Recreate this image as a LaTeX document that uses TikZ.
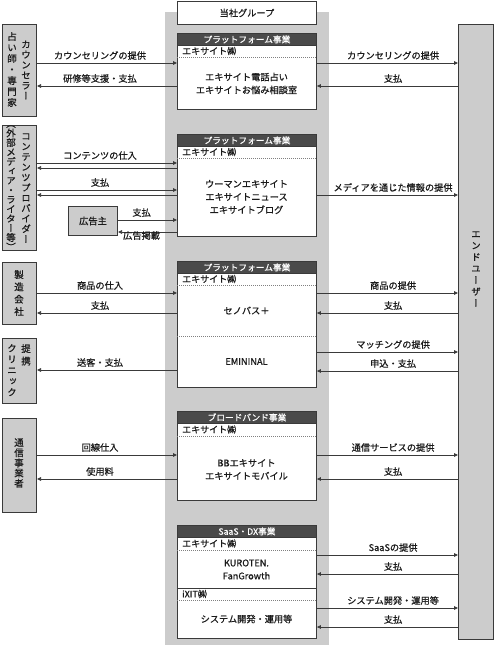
\documentclass[tikz,border=0pt]{standalone}
\usepackage{fontspec}
\setmainfont{Noto Sans CJK JP}[FakeBold=0.7]
\newfontfamily\vjp[RawFeature=+vert,FakeBold=0.7]{Noto Sans CJK JP}
\usetikzlibrary{arrows.meta}
\definecolor{colbg}{HTML}{CCCCCC}
\definecolor{hdr}{HTML}{4A4A4A}
\definecolor{ln}{HTML}{3A3A3A}
\definecolor{txt}{HTML}{1A1A1A}
\tikzset{
 line/.style={draw=ln, line width=0.75pt},
 ra/.style={line, -{Triangle[length=4pt,width=3.6pt]}},
 la/.style={line, {Triangle[length=4pt,width=3.6pt]}-},
 lbl/.style={font=\fontsize{9.2}{10}\selectfont, inner sep=0pt, anchor=base, yshift=4pt, text=txt},
 lblb/.style={lbl, yshift=-11pt},
 lbox/.style={draw=ln, line width=1pt, fill=colbg, anchor=north west, inner sep=0pt, minimum width=34pt},
 pbox/.style={draw=ln, line width=0.9pt, fill=white, anchor=north west, inner sep=0pt, minimum width=139pt},
 hdrbox/.style={fill=hdr, draw=ln, line width=0.9pt, anchor=north west, inner sep=0pt, minimum width=139pt, minimum height=12pt, text=white, font=\fontsize{8.7}{9}\selectfont},
 corp/.style={anchor=west, inner sep=0pt, text=txt, font=\fontsize{9}{10}\selectfont},
 body/.style={align=center, inner sep=0pt, text=txt, font=\fontsize{9.2}{13}\selectfont},
 vt/.style={align=center, inner sep=0pt, text=txt, font=\vjp\fontsize{9.5}{#1}\selectfont},
 vt/.default=11,
 sep/.style={draw=gray, line width=0.5pt, dash pattern=on 1pt off 1pt},
}
\begin{document}
\begin{tikzpicture}[x=1pt,y=-1pt]
\useasboundingbox (0,0) rectangle (494,645);
\fill[colbg] (165,12) rectangle (329,645);

% group header
\node[pbox, minimum height=23pt, font=\fontsize{9.2}{10}\selectfont, text=txt] (grp) at (177,1) {当社グループ};

% end user
\node[lbox, minimum width=35pt, minimum height=615pt] (eu) at (458,24) {};
\node[vt=11.5] (eut) at (476,269) {エ\\ン\\ド\\ユ\\ー\\ザ\\ー};

% left boxes
\node[lbox, minimum height=92pt] (cns) at (2,24) {};
\node[vt=10.3] (cnsa) at (26,70) {カ\\ウ\\ン\\セ\\ラ\\ー};
\node[vt=11] (cnsb) at (12,69.5) {占\\い\\師\\・\\専\\門\\家};

\node[lbox, minimum height=125pt] (cp) at (2,125) {};
\node[vt=10.3] (cpa) at (26,188) {コ\\ン\\テ\\ン\\ツ\\プ\\ロ\\バ\\イ\\ダ\\ー};
\node[vt=9.5] (cpb) at (11,188) {（\\外\\部\\メ\\デ\\ィ\\ア\\・\\ラ\\イ\\タ\\ー\\等\\）};

\node[lbox, minimum width=49pt, minimum height=29pt, font=\fontsize{9.2}{10}\selectfont, text=txt] (ad) at (68,206) {広告主};

\node[lbox, minimum height=62pt] (mfr) at (2,262) {};
\node[vt=12.3] (mfrt) at (19,293) {製\\造\\会\\社};

\node[lbox, minimum height=65pt] (cl) at (2,338) {};
\node[vt=12.5, anchor=north] (cla) at (26,344) {提\\携};
\node[vt=11, anchor=north] (clb) at (12,344) {ク\\リ\\ニ\\ッ\\ク};

\node[lbox, minimum height=94pt] (tel) at (2,418) {};
\node[vt=10.2] (telt) at (19,463) {通\\信\\事\\業\\者};

% platform 1
\node[pbox, minimum height=76pt] (p1) at (177,33) {};
\node[hdrbox] (h1) at (177,33) {プラットフォーム事業};
\node[corp] (c1) at (182,51) {エキサイト㈱};
\draw[sep] (p1.west |- 0,57) -- (p1.east |- 0,57);
\node[body] (b1) at (246.5,83.5) {エキサイト電話占い\\エキサイトお悩み相談室};

% platform 2
\node[pbox, minimum height=102pt] (p2) at (177,134) {};
\node[hdrbox] (h2) at (177,134) {プラットフォーム事業};
\node[corp] (c2) at (182,152) {エキサイト㈱};
\draw[sep] (p2.west |- 0,158) -- (p2.east |- 0,158);
\node[body] (b2) at (246.5,197) {ウーマンエキサイト\\エキサイトニュース\\エキサイトブログ};

% platform 3
\node[pbox, minimum height=126pt] (p3) at (177,261) {};
\node[hdrbox] (h3) at (177,261) {プラットフォーム事業};
\node[corp] (c3) at (182,279) {エキサイト㈱};
\draw[sep] (p3.west |- 0,285) -- (p3.east |- 0,285);
\node[body] (b3) at (246.5,310.5) {セノバス＋};
\draw[sep] (p3.west |- 0,336) -- (p3.east |- 0,336);
\node[body] (b3b) at (246.5,361.5) {EMININAL};

% platform 4
\node[pbox, minimum height=89pt] (p4) at (177,411) {};
\node[hdrbox] (h4) at (177,411) {ブロードバンド事業};
\node[corp] (c4) at (182,429.5) {エキサイト㈱};
\draw[sep] (p4.west |- 0,436) -- (p4.east |- 0,436);
\node[body] (b4) at (246.5,469.5) {BBエキサイト\\エキサイトモバイル};

% platform 5
\node[pbox, minimum height=113pt] (p5) at (177,525) {};
\node[hdrbox] (h5) at (177,525) {SaaS・DX事業};
\node[corp] (c5) at (182,543.5) {エキサイト㈱};
\draw[sep] (p5.west |- 0,550) -- (p5.east |- 0,550);
\node[body] (b5) at (246.5,569.5) {KUROTEN.\\FanGrowth};
\draw[line] (p5.west |- 0,588) -- (p5.east |- 0,588);
\node[corp] (c5b) at (182,594) {iXIT㈱};
\draw[sep] (p5.west |- 0,600) -- (p5.east |- 0,600);
\node[body] (b5b) at (246.5,619) {システム開発・運用等};

% left arrows
\draw[ra] (cns.east |- 0,63) -- node[lbl, pos=.45]{カウンセリングの提供} (p1.west |- 0,63);
\draw[la] (cns.east |- 0,86) -- node[lbl, pos=.45]{研修等支援・支払} (p1.west |- 0,86);
\draw[ra] (cp.east |- 0,163) -- node[lbl, pos=.45]{コンテンツの仕入} (p2.west |- 0,163);
\draw[la] (cp.east |- 0,168) -- (p2.west |- 0,168);
\draw[ra] (cp.east |- 0,190) -- node[lbl, pos=.45]{支払} (p2.west |- 0,190);
\draw[la] (cp.east |- 0,195) -- (p2.west |- 0,195);
\draw[ra] (ad.east |- 0,220) -- node[lbl, pos=.4]{支払} (p2.west |- 0,220);
\draw[la] (ad.east |- 0,232) -- node[lblb, pos=.4]{広告掲載} (p2.west |- 0,232);
\draw[ra] (mfr.east |- 0,293) -- node[lbl, pos=.45]{商品の仕入} (p3.west |- 0,293);
\draw[la] (mfr.east |- 0,313) -- node[lbl, pos=.45]{支払} (p3.west |- 0,313);
\draw[la] (cl.east |- 0,370) -- node[lbl, pos=.45]{送客・支払} (p3.west |- 0,370);
\draw[ra] (tel.east |- 0,455) -- node[lbl, pos=.45]{回線仕入} (p4.west |- 0,455);
\draw[la] (tel.east |- 0,479) -- node[lbl, pos=.45]{使用料} (p4.west |- 0,479);

% right arrows
\draw[ra] (p1.east |- 0,63) -- node[lbl, pos=.54]{カウンセリングの提供} (eu.west |- 0,63);
\draw[la] (p1.east |- 0,86) -- node[lbl, pos=.54]{支払} (eu.west |- 0,86);
\draw[ra] (p2.east |- 0,195) -- node[lbl, pos=.54]{メディアを通じた情報の提供} (eu.west |- 0,195);
\draw[ra] (p3.east |- 0,293) -- node[lbl, pos=.54]{商品の提供} (eu.west |- 0,293);
\draw[la] (p3.east |- 0,313) -- node[lbl, pos=.54]{支払} (eu.west |- 0,313);
\draw[ra] (p3.east |- 0,352) -- node[lbl, pos=.54]{マッチングの提供} (eu.west |- 0,352);
\draw[la] (p3.east |- 0,371) -- node[lbl, pos=.54]{申込・支払} (eu.west |- 0,371);
\draw[ra] (p4.east |- 0,455) -- node[lbl, pos=.54]{通信サービスの提供} (eu.west |- 0,455);
\draw[la] (p4.east |- 0,479) -- node[lbl, pos=.54]{支払} (eu.west |- 0,479);
\draw[ra] (p5.east |- 0,555) -- node[lbl, pos=.54]{SaaSの提供} (eu.west |- 0,555);
\draw[la] (p5.east |- 0,574) -- node[lbl, pos=.54]{支払} (eu.west |- 0,574);
\draw[ra] (p5.east |- 0,608) -- node[lbl, pos=.54]{システム開発・運用等} (eu.west |- 0,608);
\draw[la] (p5.east |- 0,627) -- node[lbl, pos=.54]{支払} (eu.west |- 0,627);
\end{tikzpicture}
\end{document}
